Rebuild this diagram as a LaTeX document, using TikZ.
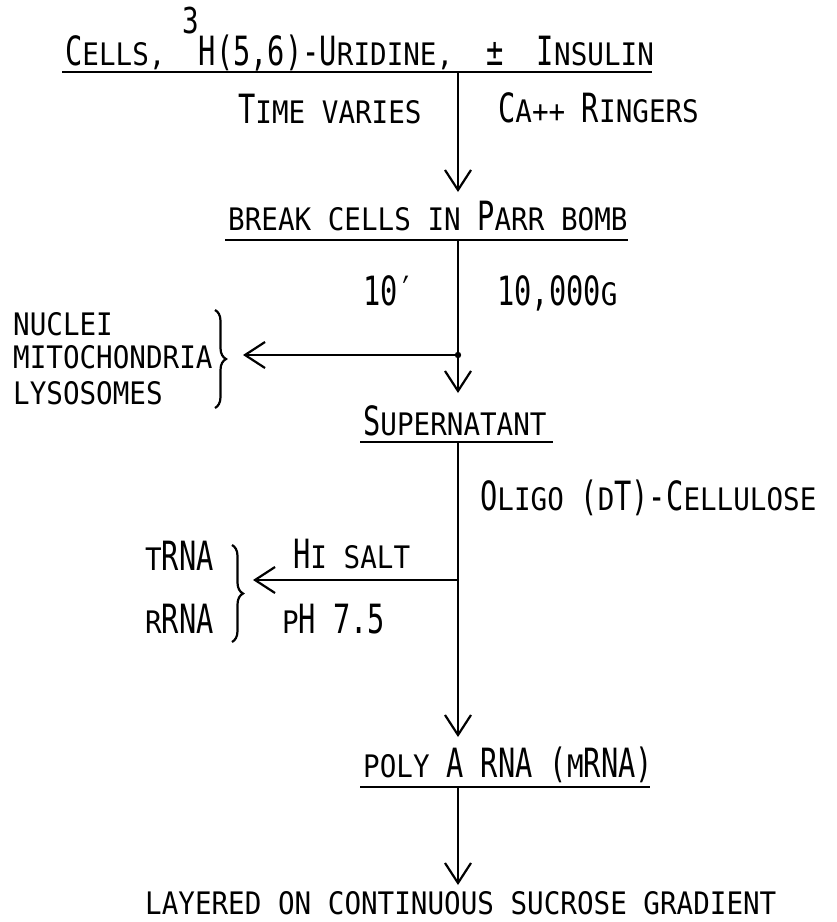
\documentclass[tikz,border=0pt]{standalone}
\usepackage{fontspec}
\setmainfont[FakeStretch=0.89]{DejaVu Sans Mono}
\usetikzlibrary{arrows.meta,decorations.pathreplacing}
\newcommand{\B}[1]{\scalebox{1.04}[1.3]{#1}}
\tikzset{
  lbl/.style={inner sep=0pt, anchor=base west, font=\fontsize{31}{33}\selectfont},
  flow/.style={line width=2.2pt, -{Straight Barb[length=20pt,width=26pt,line width=2.2pt]}},
  rule/.style={line width=2.2pt},
  bracestyle/.style={line width=2.2pt, decorate, decoration={brace, amplitude=11pt}},
}
\begin{document}
\begin{tikzpicture}[x=1pt,y=-1pt]
\useasboundingbox (0,0) rectangle (837,922);
% title
\node[lbl] (title) at (65,65) {\B{C}ELLS,\ \raisebox{32pt}{\scalebox{1}[1.15]{3}}\B{H(5,6)-U}RIDINE,\ \ \B{±}\ \ \B{I}NSULIN};
\coordinate (t0) at (458,72);
\draw[rule] (62,72) -- (652,72);
\node[lbl] (tv) at (238,123) {\B{T}IME VARIES};
\node[lbl] (ca) at (498,122) {\B{C}A++ \B{R}INGERS};
% break cells
\node[lbl] (brk) at (228,230) {BREAK CELLS IN \B{P}ARR BOMB};
\coordinate (b1) at (458,192);
\coordinate (b0) at (458,240);
\draw[rule] (225,240) -- (628,240);
\draw[flow] (t0) -- (b1);
\node[lbl] (ten) at (363,305) {\B{10′}};
\node[lbl] (g) at (497,305) {\B{10,000}G};
% nuclei branch
\coordinate (j1) at (458,355);
\coordinate (j1e) at (243,355);
\node[lbl] (nuc) at (13,335) {NUCLEI};
\node[lbl] (mit) at (13,368) {MITOCHONDRIA};
\node[lbl] (lys) at (13,404) {LYSOSOMES};
\draw[bracestyle] (215,310) -- (215,408);
% supernatant
\coordinate (s1) at (458,393);
\coordinate (s0) at (458,442);
\node[lbl] (sup) at (363,435) {\B{S}UPERNATANT};
\draw[rule] (360,442) -- (553,442);
\draw[flow] (b0) -- (s1);
\draw[flow] (j1) -- (j1e);
\fill (j1) circle (3.2pt);
\node[lbl] (oli) at (480,510) {\B{O}LIGO \B{(}D\B{T)-C}ELLULOSE};
% rna branch
\coordinate (j2) at (458,580);
\coordinate (j2e) at (253,580);
\draw[flow] (j2) -- (j2e);
\node[lbl] (hi) at (293,568) {\B{H}I SALT};
\node[lbl] (ph) at (282,633) {P\B{H 7.5}};
\node[lbl] (trna) at (145,570) {T\B{RNA}};
\node[lbl] (rrna) at (145,633) {R\B{RNA}};
\draw[bracestyle] (232,545) -- (232,642);
% poly A
\coordinate (p1) at (458,737);
\coordinate (p0) at (458,787);
\node[lbl] (poly) at (363,777) {POLY \B{A RNA (}M\B{RNA)}};
\draw[rule] (360,787) -- (650,787);
\draw[flow] (s0) -- (p1);
% layered
\coordinate (l1) at (458,885);
\draw[flow] (p0) -- (l1);
\node[lbl] (lay) at (145,914) {LAYERED ON CONTINUOUS SUCROSE GRADIENT};
\end{tikzpicture}
\end{document}
